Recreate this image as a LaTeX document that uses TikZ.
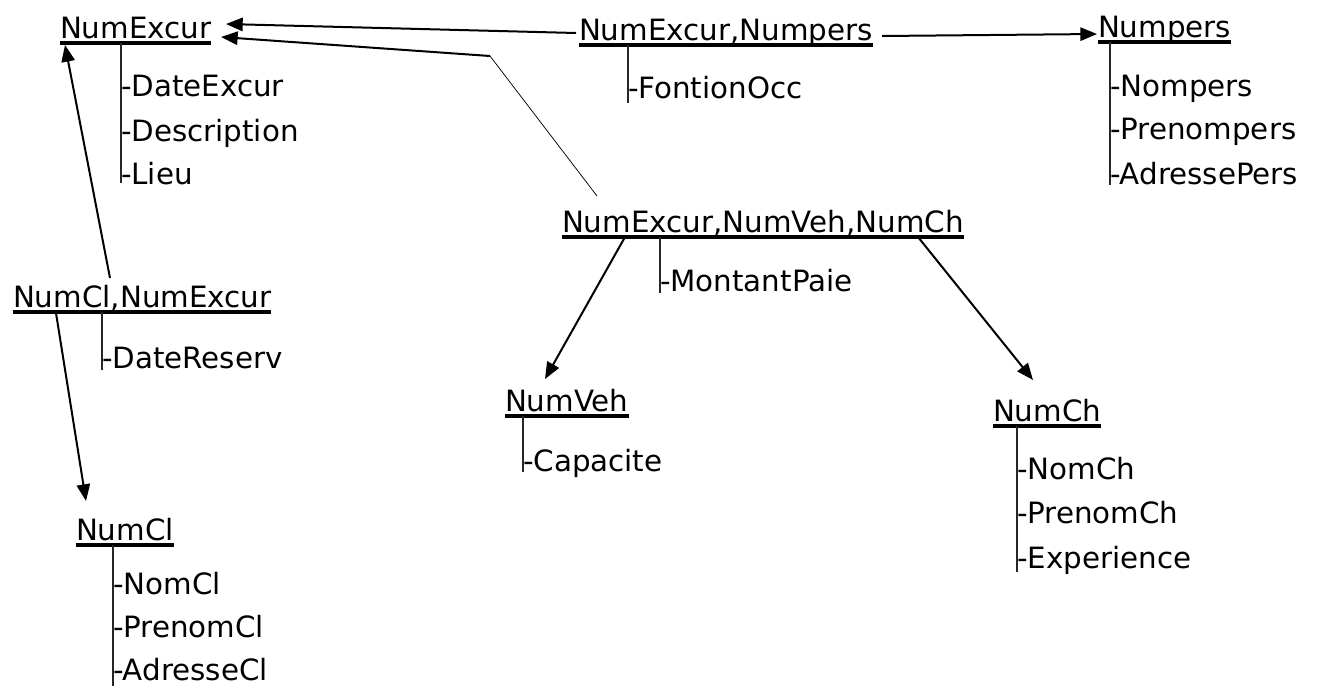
\documentclass[tikz,border=0pt]{standalone}
\usepackage{fontspec}
\setmainfont{DejaVu Sans}
\usetikzlibrary{arrows.meta,calc}
\begin{document}
\begin{tikzpicture}[x=0.75pt,y=-0.75pt,
  every node/.style={font=\fontsize{22}{26}\selectfont, inner sep=0pt, outer sep=0pt},
  key/.style={anchor=base west},
  attr/.style={anchor=base west},
  uline/.style={line width=2.4pt},
  stem/.style={line width=0.8pt, draw=black!85},
  conn/.style={line width=1.5pt, -{Triangle[length=12.5pt,width=10pt]}},
  thinconn/.style={line width=0.55pt}]
\useasboundingbox (0,0) rectangle (1317,686);

% entity keys (underlined)
\node[key] (k1) at (60,38)   {NumExcur};
\node[key] (k2) at (579,40)  {NumExcur,Numpers};
\node[key] (k3) at (1098,37) {Numpers};
\node[key] (k4) at (562,232) {NumExcur,NumVeh,NumCh};
\node[key] (k5) at (13,307)  {NumCl,NumExcur};
\node[key] (k6) at (505,411) {NumVeh};
\node[key] (k7) at (993,421) {NumCh};
\node[key] (k8) at (76,540)  {NumCl};

\foreach \k in {k1,k2,k3,k4,k5,k6,k7,k8}
  \draw[uline] ($(\k.base west)+(0,5)$) -- ($(\k.base east)+(0,5)$);

% attribute stems
\draw[stem] (121,43)  -- (121,183);
\draw[stem] (628,45)  -- (628,103);
\draw[stem] (1110,42) -- (1110,185);
\draw[stem] (660,237) -- (660,293);
\draw[stem] (102,312) -- (102,370);
\draw[stem] (523,416) -- (523,472);
\draw[stem] (1017,426) -- (1017,572);
\draw[stem] (113,545) -- (113,686);

% attributes
\node[attr] (a11) at (121,96)  {-DateExcur};
\node[attr] (a12) at (121,141) {-Description};
\node[attr] (a13) at (121,184) {-Lieu};
\node[attr] (a21) at (628,98)  {-FontionOcc};
\node[attr] (a31) at (1110,96)  {-Nompers};
\node[attr] (a32) at (1110,139) {-Prenompers};
\node[attr] (a33) at (1110,184) {-AdressePers};
\node[attr] (a41) at (660,291) {-MontantPaie};
\node[attr] (a51) at (102,368) {-DateReserv};
\node[attr] (a61) at (523,471) {-Capacite};
\node[attr] (a71) at (1017,479) {-NomCh};
\node[attr] (a72) at (1017,523) {-PrenomCh};
\node[attr] (a73) at (1017,568) {-Experience};
\node[attr] (a81) at (113,594) {-NomCl};
\node[attr] (a82) at (113,637) {-PrenomCl};
\node[attr] (a83) at (113,680) {-AdresseCl};

% connector end points
\coordinate (c1s) at (576,33);  \coordinate (c1e) at (226,24);
\coordinate (c2s) at (597,196); \coordinate (c2b) at (490,56); \coordinate (c2e) at (221,37);
\coordinate (c3s) at (882,36);  \coordinate (c3e) at (1097,34);
\coordinate (c4s) at (110,278); \coordinate (c4e) at (65,45);
\coordinate (c5s) at (56,313);  \coordinate (c5e) at (86,501);
\coordinate (c6s) at (625,237); \coordinate (c6e) at (545,379);
\coordinate (c7s) at (918,237); \coordinate (c7e) at (1033,380);

% connectors
\draw[conn] (c1s) -- (c1e);
\draw[thinconn] (c2s) -- (c2b);
\draw[conn] (c2b) -- (c2e);
\draw[conn] (c3s) -- (c3e);
\draw[conn] (c4s) -- (c4e);
\draw[conn] (c5s) -- (c5e);
\draw[conn] (c6s) -- (c6e);
\draw[conn] (c7s) -- (c7e);
\end{tikzpicture}
\end{document}
